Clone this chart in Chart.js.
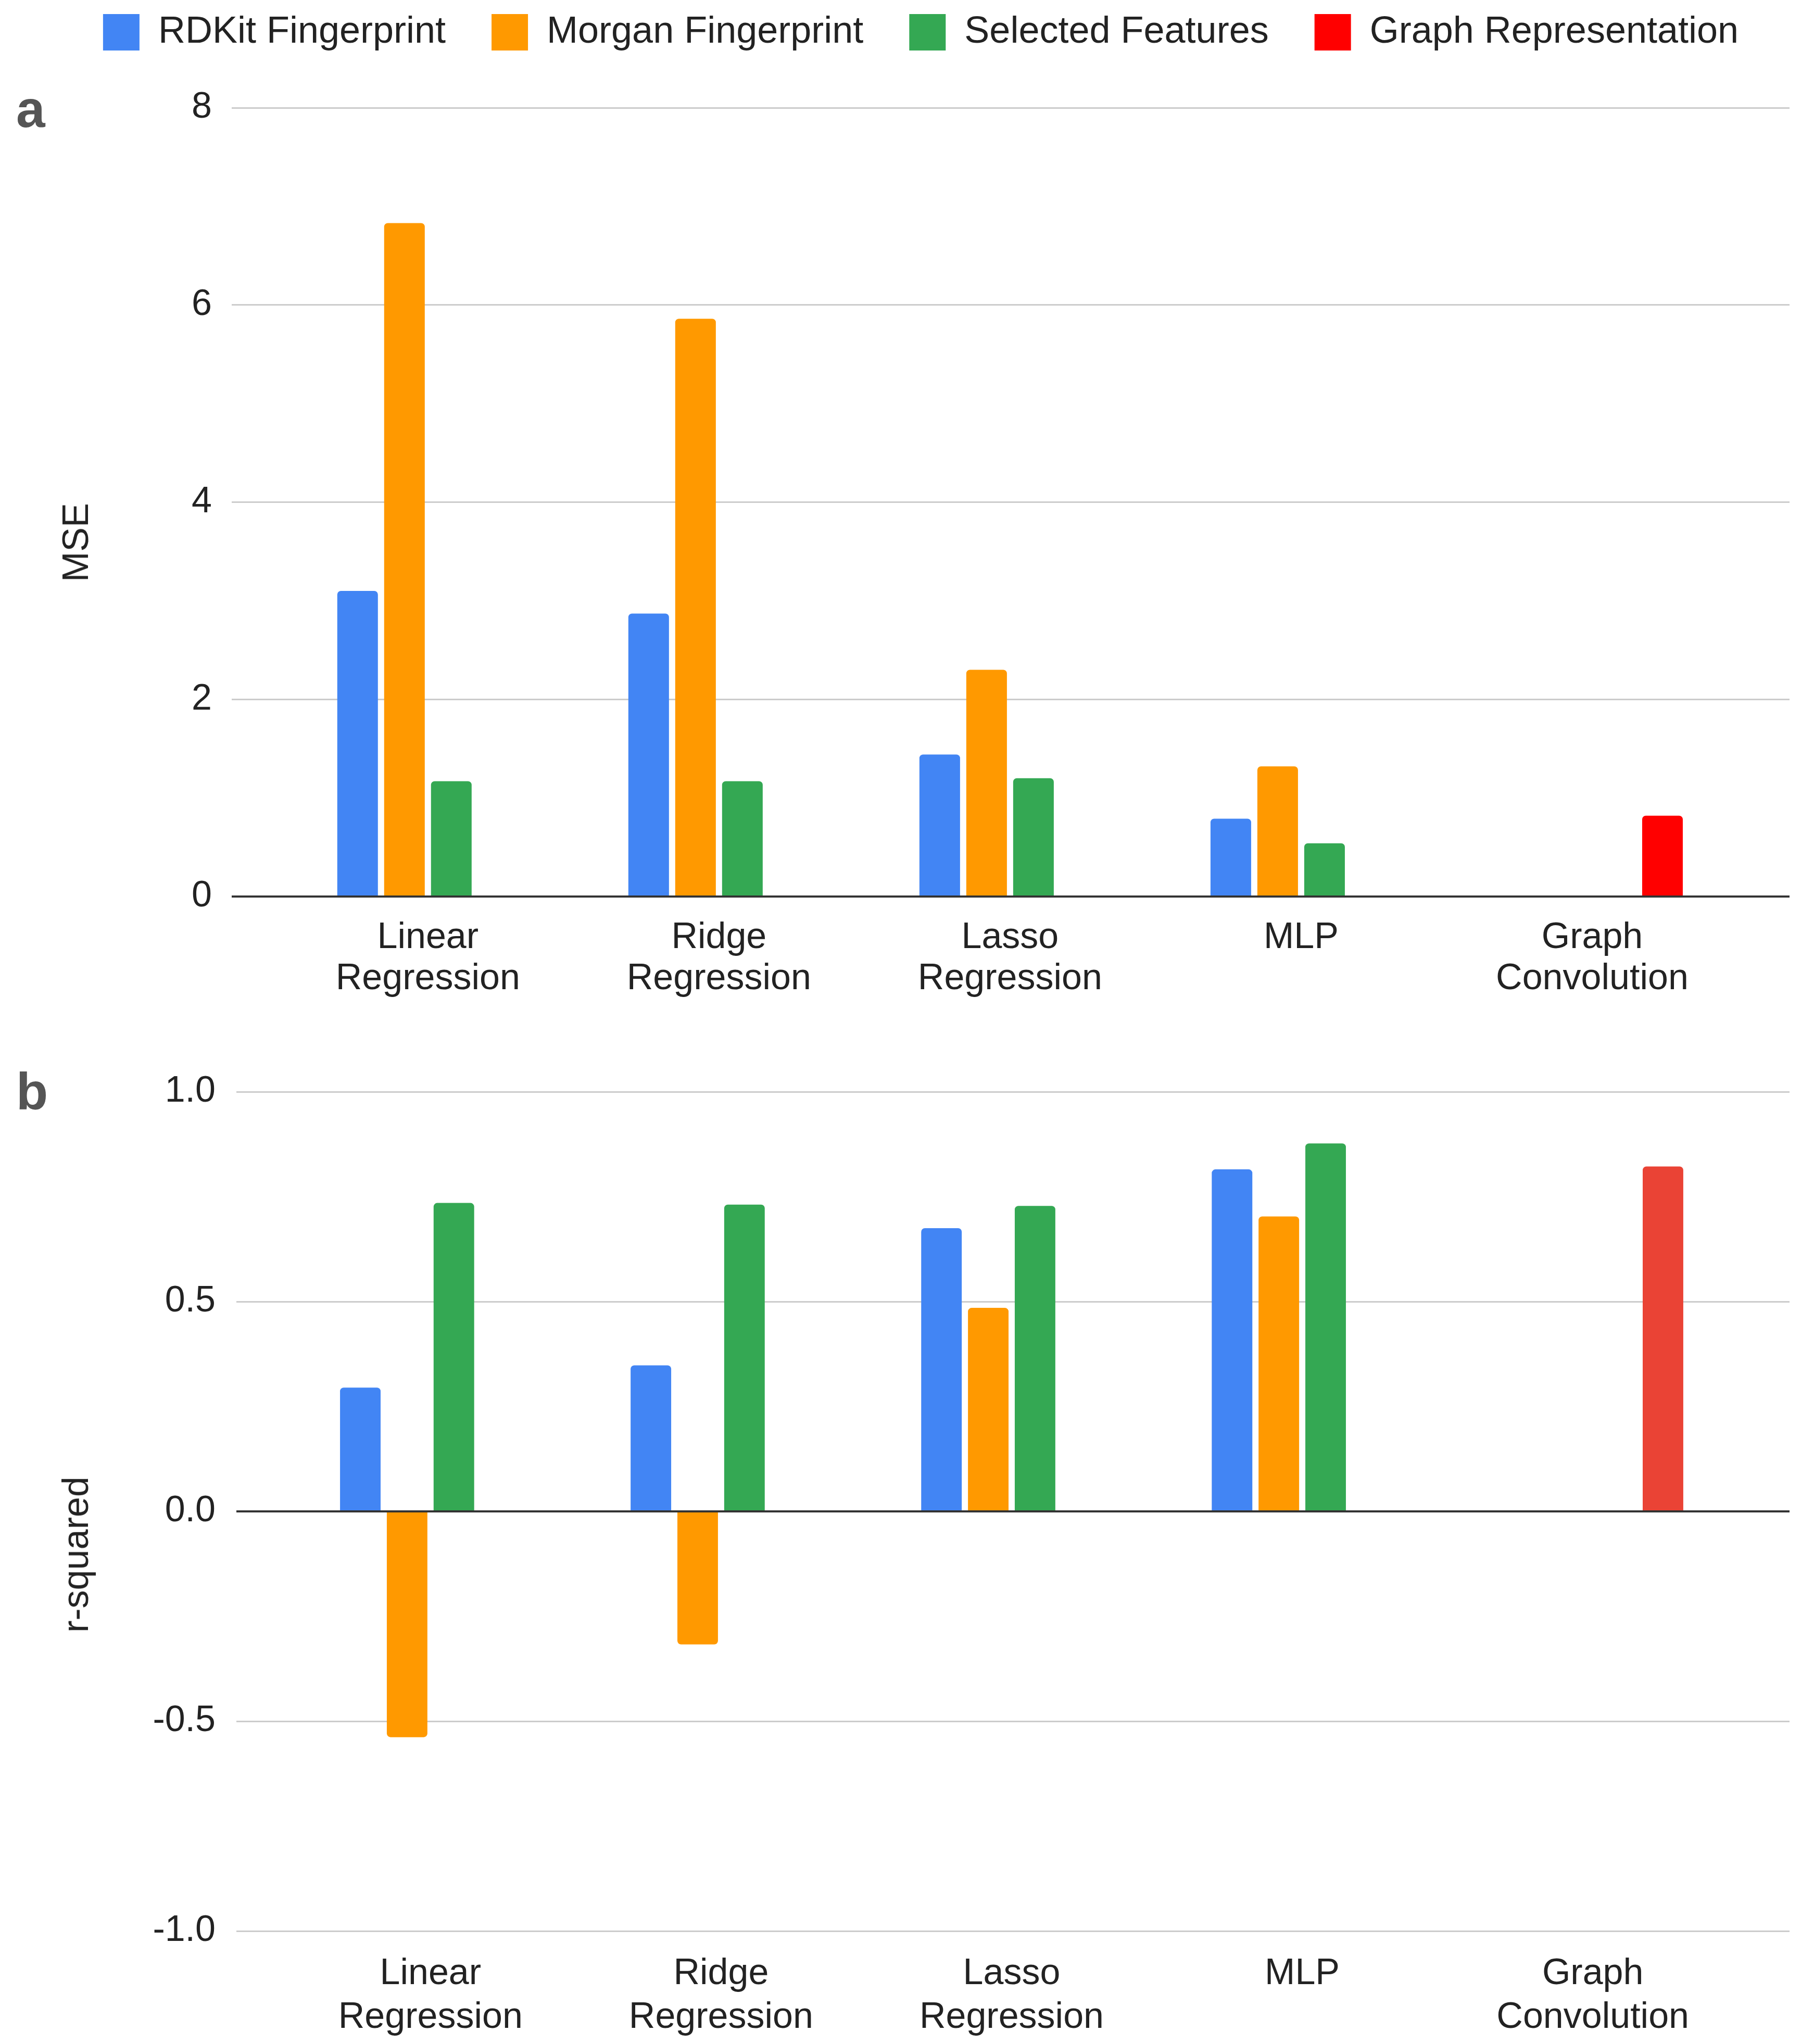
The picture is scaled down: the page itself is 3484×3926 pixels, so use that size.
<!DOCTYPE html>
<html>
<head>
<meta charset="utf-8">
<script src="https://cdn.jsdelivr.net/npm/chart.js@4/dist/chart.umd.min.js"></script>
<style>
  html, body { margin: 0; padding: 0; background: #fff; }
  body { position: relative; width: 3484px; height: 3926px; overflow: hidden; font-family: "Liberation Sans", Arial, sans-serif; }
  canvas { position: absolute; left: 0; }
  #mseChart { top: -62px; }
  #r2Chart { top: 1997px; }
  .panel { position: absolute; left: 31px; font-size: 100px; line-height: 100px; font-weight: bold; color: #555; }
  .ytitle { position: absolute; font-size: 70px; line-height: 70px; color: #222; white-space: nowrap; transform: translate(-50%, -50%) rotate(-90deg); }
</style>
</head>
<body>
<canvas id="mseChart" width="3484" height="1984"></canvas>
<canvas id="r2Chart" width="3484" height="1929"></canvas>
<div class="panel" style="top:159px">a</div>
<div class="panel" style="top:2046px">b</div>
<div class="ytitle" style="left:145px; top:1042px">MSE</div>
<div class="ytitle" style="left:145px; top:2986px">r-squared</div>
<script>
const categories = [['Linear', 'Regression'], ['Ridge', 'Regression'], ['Lasso', 'Regression'], ['MLP'], ['Graph', 'Convolution']];
const seriesNames = ['RDKit Fingerprint', 'Morgan Fingerprint', 'Selected Features', 'Graph Representation'];

// panel a: MSE
const mseRdkit = [3.10, 2.87, 1.44, 0.79, null];
const mseMorgan = [6.83, 5.86, 2.30, 1.32, null];
const mseSelected = [1.17, 1.17, 1.20, 0.54, null];
const mseGraph = [null, null, null, null, 0.82];
const mseTicks = [0, 2, 4, 6, 8];

// panel b: r-squared
const r2Rdkit = [0.295, 0.348, 0.675, 0.815, null];
const r2Morgan = [-0.538, -0.317, 0.485, 0.703, null];
const r2Selected = [0.735, 0.731, 0.728, 0.877, null];
const r2Graph = [null, null, null, null, 0.822];
const r2Ticks = ['-1.0', '-0.5', '0.0', '0.5', '1.0'];

Chart.defaults.font.family = '"Liberation Sans", Arial, sans-serif';
Chart.defaults.color = '#222';

const gridColor = ctx => ctx.tick.value === 0 ? '#333333' : '#cccccc';
const gridWidth = ctx => ctx.tick.value === 0 ? 4 : 3;

function makeDatasets(series, colors) {
	return series.map((values, k) => ({
		label: seriesNames[k],
		data: values.map((v, i) => ({ x: i, y: v })),
		backgroundColor: colors[k],
		borderRadius: 7,
		categoryPercentage: 0.644,
		barPercentage: 0.867
	}));
}

// linear x so the outer gridline overhang of the original can be kept
function xScale(min, max, height, lineHeight) {
	return {
		type: 'linear',
		min: min,
		max: max,
		offset: false,
		grid: { display: false, drawTicks: false },
		border: { display: false },
		ticks: {
			stepSize: 1,
			includeBounds: false,
			autoSkip: false,
			maxRotation: 0,
			padding: 41,
			font: { size: 70, lineHeight: lineHeight },
			callback: v => categories[v] || ''
		},
		afterFit: s => { s.height = height; }
	};
}

new Chart(document.getElementById('mseChart'), {
	type: 'bar',
	data: {
		datasets: makeDatasets([mseRdkit, mseMorgan, mseSelected, mseGraph], ['#4285F4', '#FF9900', '#34A853', '#FF0000'])
	},
	options: {
		responsive: false,
		animation: false,
		devicePixelRatio: 1,
		layout: { padding: { left: 100, right: 47, top: 0, bottom: 0 } },
		plugins: {
			tooltip: { enabled: false },
			legend: {
				position: 'top',
				labels: { boxWidth: 70, boxHeight: 70, padding: 88, color: '#222', font: { size: 72 } }
			}
		},
		scales: {
			x: xScale(-0.674, 4.678, 200, 1.12),
			y: {
				min: 0,
				max: 8.5228, // headroom between legend and the 8 line
				grid: { color: gridColor, lineWidth: gridWidth, drawTicks: false },
				border: { display: false },
				ticks: {
					stepSize: 2,
					includeBounds: false,
					padding: 38,
					font: { size: 70 },
					callback: v => mseTicks.includes(v) ? String(v) : ''
				},
				afterFit: s => { s.width = 345; }
			}
		}
	}
});

new Chart(document.getElementById('r2Chart'), {
	type: 'bar',
	data: {
		datasets: makeDatasets([r2Rdkit, r2Morgan, r2Selected, r2Graph], ['#4285F4', '#FF9900', '#34A853', '#EA4335'])
	},
	options: {
		responsive: false,
		animation: false,
		devicePixelRatio: 1,
		layout: { padding: { left: 0, right: 47, top: 100, bottom: 0 } },
		plugins: {
			tooltip: { enabled: false },
			legend: { display: false }
		},
		scales: {
			x: xScale(-0.668, 4.677, 217, 1.2),
			y: {
				min: -1,
				max: 1,
				grid: { color: gridColor, lineWidth: gridWidth, drawTicks: false },
				border: { display: false },
				ticks: {
					stepSize: 0.5,
					padding: 40,
					font: { size: 70 },
					callback: v => r2Ticks[Math.round((v + 1) * 2)]
				},
				afterFit: s => { s.width = 454; }
			}
		}
	}
});
</script>
</body>
</html>
